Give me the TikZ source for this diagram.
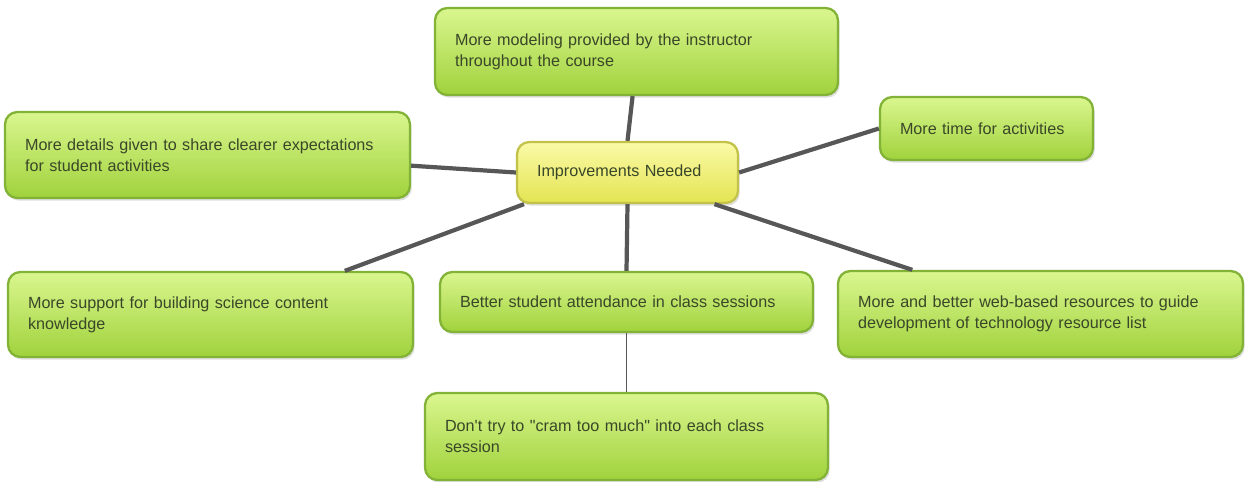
\documentclass[tikz,border=0pt]{standalone}
\usepackage{fontspec}
\setmainfont{Liberation Sans}
\usetikzlibrary{shadows}
\definecolor{boxtop}{HTML}{DAF68F}
\definecolor{boxbot}{HTML}{A0D23C}
\definecolor{boxline}{HTML}{82B236}
\definecolor{hubtop}{HTML}{FAFAA8}
\definecolor{hubbot}{HTML}{E4E452}
\definecolor{hubline}{HTML}{C2C24A}
\definecolor{txt}{HTML}{3A4728}
\definecolor{link}{HTML}{575757}

\begin{document}
\begin{tikzpicture}[
    x=0.02cm, y=-0.02cm,
    idea/.style={rectangle, rounded corners=7pt, draw=boxline, line width=1.3pt,
      top color=boxtop, bottom color=boxbot, text=txt, align=left,
      inner xsep=0.4cm, font=\fontsize{9.2}{12}\selectfont,
      drop shadow={opacity=0.25, shadow xshift=1pt, shadow yshift=-1.5pt}},
    hubbox/.style={idea, draw=hubline, top color=hubtop, bottom color=hubbot},
    thicklink/.style={draw=link, line width=2.4pt},
    thinlink/.style={draw=link, line width=0.8pt}
  ]
  \useasboundingbox (0,0) rectangle (1247,481);

  % --- NODES ---
  \node[hubbox, text width=3.62cm, minimum height=1.22cm] (hub) at (627.5,172.5) {Improvements Needed};

  \node[idea, text width=7.26cm, minimum height=1.74cm] (modeling) at (636.5,51.5)
    {More modeling provided by the instructor\\throughout the course};
  \node[idea, text width=7.3cm, minimum height=1.72cm] (details) at (207.5,155)
    {More details given to share clearer expectations\\for student activities};
  \node[idea, text width=3.46cm, minimum height=1.26cm] (time) at (986.5,128.5)
    {More time for activities};
  \node[idea, text width=7.3cm, minimum height=1.7cm] (support) at (210.5,314.5)
    {More support for building science content\\knowledge};
  \node[idea, text width=6.66cm, minimum height=1.2cm] (attendance) at (626.5,302)
    {Better student attendance in class sessions};
  \node[idea, text width=7.3cm, minimum height=1.72cm] (webres) at (1040.5,314)
    {More and better web-based resources to guide\\development of technology resource list};
  \node[idea, text width=7.26cm, minimum height=1.74cm] (cram) at (626.5,436.5)
    {Don\textquotesingle t try to \textquotedbl cram too much\textquotedbl{} into each class\\session};

  % --- CONNECTORS ---
  \path[thicklink] (hub.north) -- (modeling.-95);
  \path[thicklink] (hub.west) -- (details.-3);
  \path[thicklink] (hub.east) -- (time.west);
  \path[thicklink] (hub.197) -- (support.18);
  \path[thicklink] (hub.south) -- (attendance.north);
  \path[thicklink] (hub.-20) -- (webres.161);
  \path[thinlink] (attendance.south) -- (cram.north);

\end{tikzpicture}
\end{document}
